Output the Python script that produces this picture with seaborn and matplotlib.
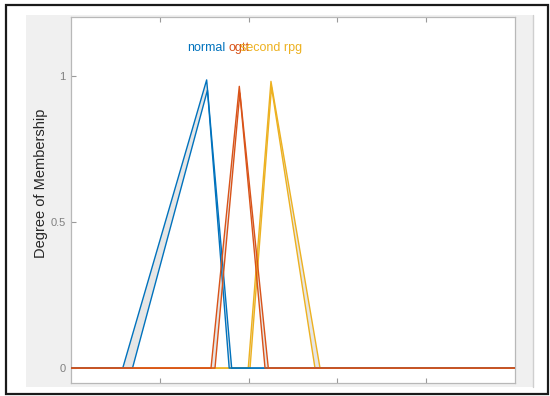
import numpy as np
import pandas as pd
import matplotlib
matplotlib.use("Agg")
import matplotlib.pyplot as plt
import seaborn as sns
from matplotlib.patches import Rectangle

# Membership functions (type-2: upper and lower triangles)
x_range = [0, 500]
mf_names = ["normal", "ogtt", "second rpg"]
mf_colors = ["#0072BD", "#D95319", "#EDB120"]

normal_upper_x = [0, 58, 152.6, 180.8, 500]
normal_upper_y = [0, 0, 0.985, 0, 0]
normal_lower_x = [0, 69, 153.5, 178, 500]
normal_lower_y = [0, 0, 0.95, 0, 0]

ogtt_upper_x = [0, 157.5, 189.4, 222.1, 500]
ogtt_upper_y = [0, 0, 0.963, 0, 0]
ogtt_lower_x = [0, 162, 190, 218.4, 500]
ogtt_lower_y = [0, 0, 0.94, 0, 0]

rpg_upper_x = [0, 199.5, 225.1, 280.4, 500]
rpg_upper_y = [0, 0, 0.98, 0, 0]
rpg_lower_x = [0, 201.5, 225.7, 274.7, 500]
rpg_lower_y = [0, 0, 0.96, 0, 0]

y_ticks = [0, 0.5, 1]
y_tick_labels = ["0", "0.5", "1"]
x_ticks = [100, 200, 300, 400]

sns.set_theme(style="white")
plt.rcParams["font.family"] = ["Liberation Sans", "DejaVu Sans"]

W, H = 550, 396
fig = plt.figure(figsize=(W / 100, H / 100), dpi=100, facecolor="white")

# screenshot frame and grey figure background
fig.patches.append(Rectangle((26 / W, 1 - 387 / H), (533 - 26) / W, (387 - 15) / H,
                             transform=fig.transFigure, facecolor="#f0f0f0",
                             edgecolor="none", zorder=-2))
fig.lines.append(plt.Line2D([533 / W, 533 / W], [1 - 387 / H, 1 - 15 / H],
                            transform=fig.transFigure, color="#cfcfcf", lw=1.0,
                            zorder=-1))
fig.patches.append(Rectangle((6 / W, 1 - 394 / H), (548 - 6) / W, (394 - 5) / H,
                             transform=fig.transFigure, facecolor="none",
                             edgecolor="#1a1a1a", lw=1.6, zorder=5))

ax = fig.add_axes([71.3 / W, 1 - 382.7 / H, 443.5 / W, 365.7 / H])
ax.set_facecolor("white")

curves = [
    (normal_upper_x, normal_upper_y, normal_lower_x, normal_lower_y, 0, 3),
    (ogtt_upper_x, ogtt_upper_y, ogtt_lower_x, ogtt_lower_y, 1, 4),
    (rpg_upper_x, rpg_upper_y, rpg_lower_x, rpg_lower_y, 2, 2),
]

for ux, uy, lx, ly, i, z in curves:
    # footprint of uncertainty
    ax.fill(np.concatenate([ux, lx[::-1]]), np.concatenate([uy, ly[::-1]]),
            color="#e6e6e6", lw=0, zorder=1)
    for xs, ys in [(ux, uy), (lx, ly)]:
        df = pd.DataFrame({"x": xs, "y": ys})
        sns.lineplot(data=df, x="x", y="y", ax=ax, color=mf_colors[i],
                     lw=1.0, estimator=None, sort=False, zorder=z)
    peak = ux[int(np.argmax(uy))]
    ax.text(peak, 1.095, mf_names[i], color=mf_colors[i], ha="center",
            va="center", fontsize=9)

ax.set_xlim(x_range)
ax.set_ylim(-0.05, 1.2)
ax.set_xticks(x_ticks)
ax.set_xticklabels([])
ax.set_yticks(y_ticks)
ax.set_yticklabels(y_tick_labels)
ax.set_xlabel("")
ax.set_ylabel("Degree of Membership", fontsize=10.5, color="#262626")
ax.yaxis.set_label_coords(-0.052, 0.545)
ax.tick_params(axis="both", direction="in", length=3.5, width=0.8,
               color="#9a9a9a", labelcolor="#808080", labelsize=8, pad=4)
ax.tick_params(axis="x", top=True, bottom=True)
ax.tick_params(axis="y", left=True, right=False)
for s in ax.spines.values():
    s.set_color("#b8b8b8")
    s.set_linewidth(0.9)

fig.savefig("out.png", dpi=100)
plt.close(fig)
